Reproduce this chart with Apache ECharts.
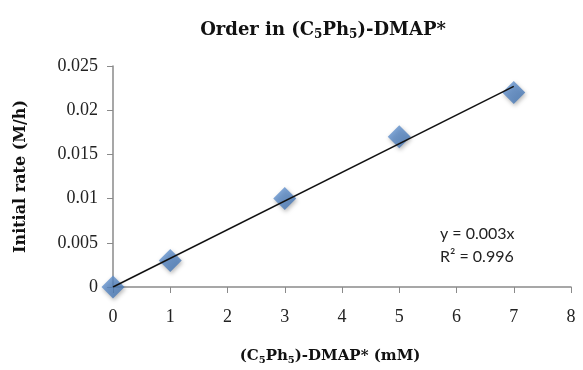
<!DOCTYPE html>
<html>
<head>
<meta charset="utf-8">
<script src="https://cdn.jsdelivr.net/npm/echarts@6/dist/echarts.min.js"></script>
<style>html,body{margin:0;padding:0;background:#fff;}#c{width:583px;height:370px;}</style>
</head>
<body>
<div id="c"></div>
<script>
var concentrations = [0, 1, 3, 5, 7];
var initialRates = [0, 0.003, 0.01, 0.017, 0.022];
var trendX = [0, 7];
var trendY = [0, 0.0227];
var equationLines = ['y = 0.003x', 'R² = 0.996'];

var serif = '"DejaVu Serif", "Liberation Serif", serif';
var tickSerif = '"Liberation Serif", "DejaVu Serif", serif';
var chart = echarts.init(document.getElementById('c'), null, {renderer: 'canvas'});
chart.setOption({
  backgroundColor: '#fff',
  animation: false,
  title: {
    text: '{t|Order in (C}{s|5}{t|Ph}{s|5}{t|)-DMAP*}',
    left: 318, top: 15, textAlign: 'center',
    textStyle: {
      rich: {
        t: {fontFamily: serif, fontWeight: 'bold', fontSize: 18, color: '#111'},
        s: {fontFamily: serif, fontWeight: 'bold', fontSize: 12, color: '#111', verticalAlign: 'bottom', padding: [9, 0, 0, 0]}
      }
    }
  },
  grid: {left: 113, right: 12, top: 66, bottom: 83},
  xAxis: {
    type: 'value', min: 0, max: 8, interval: 1,
    name: '{t|(C}{s|5}{t|Ph}{s|5}{t|)-DMAP* (mM)}',
    nameLocation: 'middle', nameGap: 61,
    nameTextStyle: {
      padding: [0, 24, 0, 0],
      rich: {
        t: {fontFamily: serif, fontWeight: 'bold', fontSize: 15, color: '#111'},
        s: {fontFamily: serif, fontWeight: 'bold', fontSize: 10, color: '#111', verticalAlign: 'bottom', padding: [7, 0, 0, 0]}
      }
    },
    axisLine: {lineStyle: {color: '#8a8a8a', width: 1.5}},
    axisTick: {inside: false, length: 6, lineStyle: {color: '#8a8a8a'}},
    axisLabel: {fontFamily: tickSerif, fontSize: 18, color: '#222', margin: 21},
    splitLine: {show: false}
  },
  yAxis: {
    type: 'value', min: 0, max: 0.025, interval: 0.005,
    name: 'Initial rate (M/h)',
    nameLocation: 'middle', nameGap: 84, nameRotate: 90,
    nameTextStyle: {fontFamily: serif, fontWeight: 'bold', fontSize: 16, color: '#111'},
    axisLine: {show: true, lineStyle: {color: '#8a8a8a', width: 1.5}},
    axisTick: {show: true, inside: false, length: 6, lineStyle: {color: '#8a8a8a'}},
    axisLabel: {fontFamily: tickSerif, fontSize: 18, color: '#222', margin: 15},
    splitLine: {show: false}
  },
  series: [
    {
      type: 'line',
      data: trendX.map(function (x, i) { return [x, trendY[i]]; }),
      showSymbol: false, symbol: 'none',
      lineStyle: {color: '#111', width: 1.5},
      z: 3
    },
    {
      type: 'scatter',
      data: concentrations.map(function (x, i) { return [x, initialRates[i]]; }),
      symbol: 'diamond', symbolSize: 23,
      itemStyle: {
        color: new echarts.graphic.LinearGradient(0, 0, 1, 1, [
          {offset: 0, color: '#6d9bd6'}, {offset: 1, color: '#3d6fae'}
        ]),
        shadowColor: 'rgba(0,0,0,0.35)', shadowBlur: 4, shadowOffsetX: 1, shadowOffsetY: 2
      },
      z: 2
    }
  ],
  graphic: [
    {type: 'text', left: 440, top: 226, style: {text: equationLines[0], fontFamily: '"Lato", "Open Sans", sans-serif', fontSize: 16, fill: '#222'}},
    {type: 'text', left: 440, top: 249, style: {text: equationLines[1], fontFamily: '"Lato", "Open Sans", sans-serif', fontSize: 16, fill: '#222'}}
  ]
});
</script>
</body>
</html>
